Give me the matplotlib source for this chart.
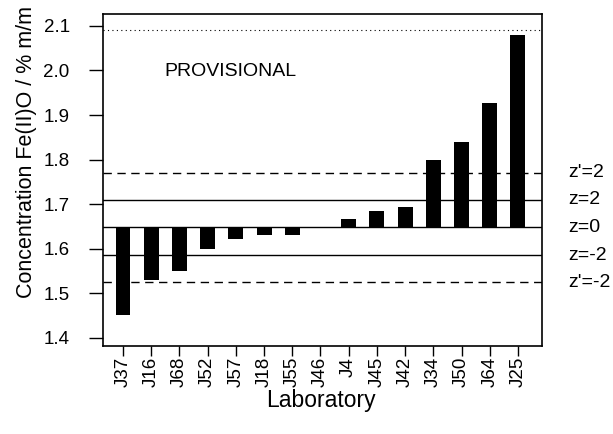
import matplotlib
matplotlib.use("Agg")
import matplotlib.pyplot as plt

plt.rcParams['font.family'] = ['Liberation Sans', 'DejaVu Sans']

# laboratories, sorted by result
labs = ['J37', 'J16', 'J68', 'J52', 'J57', 'J18', 'J55', 'J46',
        'J4', 'J45', 'J42', 'J34', 'J50', 'J64', 'J25']
results = [1.452, 1.53, 1.55, 1.60, 1.622, 1.631, 1.63, 1.648,
           1.667, 1.685, 1.694, 1.80, 1.84, 1.927, 2.08]

# assigned value and z-score limits
assigned = 1.648
z_lines = [1.71, 1.585]        # z=2, z=-2
zp_lines = [1.77, 1.525]       # z'=2, z'=-2
top_line = 2.09
limit_names = ["z'=2", "z=2", "z=0", "z=-2", "z'=-2"]
limit_values = [zp_lines[0], z_lines[0], assigned, z_lines[1], zp_lines[1]]

fig = plt.figure(figsize=(6.13, 4.34), dpi=100)
ax = fig.add_axes([0.168, 0.203, 0.716, 0.765])

x = list(range(len(labs)))
heights = [r - assigned for r in results]
ax.bar(x, heights, bottom=assigned, width=0.53, color='black')

ax.axhline(assigned, color='black', lw=1.0)
for v in z_lines:
    ax.axhline(v, color='black', lw=1.0)
for v in zp_lines:
    ax.axhline(v, color='black', lw=1.0, ls=(0, (6, 4)))
ax.axhline(top_line, color='black', lw=0.8, ls=(0, (1, 3)))

for name, v in zip(limit_names, limit_values):
    ax.text(1.059, v, name, transform=ax.get_yaxis_transform(),
            ha='left', va='center', fontsize=14)

ax.text(0.141, 0.825, 'PROVISIONAL', transform=ax.transAxes,
        ha='left', va='center', fontsize=14)

ax.set_xlim(-0.71, 14.85)
ax.set_ylim(1.382, 2.127)
ax.set_yticks([1.4, 1.5, 1.6, 1.7, 1.8, 1.9, 2.0, 2.1])
ax.set_yticklabels(['1.4', '1.5', '1.6', '1.7', '1.8', '1.9', '2.0', '2.1'])
ax.set_xticks(x)
ax.set_xticklabels(labs, rotation=90)

ax.tick_params(axis='y', direction='out', length=10, width=1.0, pad=14, labelsize=13.5)
ax.tick_params(axis='x', direction='out', length=7, width=1.0, pad=1, labelsize=13.5)
for s in ax.spines.values():
    s.set_linewidth(1.2)

ax.set_ylabel('Concentration Fe(II)O / % m/m', fontsize=15.5)
ax.yaxis.set_label_coords(-0.15, 0.585)
ax.set_xlabel('Laboratory', fontsize=16.5)
ax.xaxis.set_label_coords(0.497, -0.13)

fig.savefig('out.png', dpi=100)
